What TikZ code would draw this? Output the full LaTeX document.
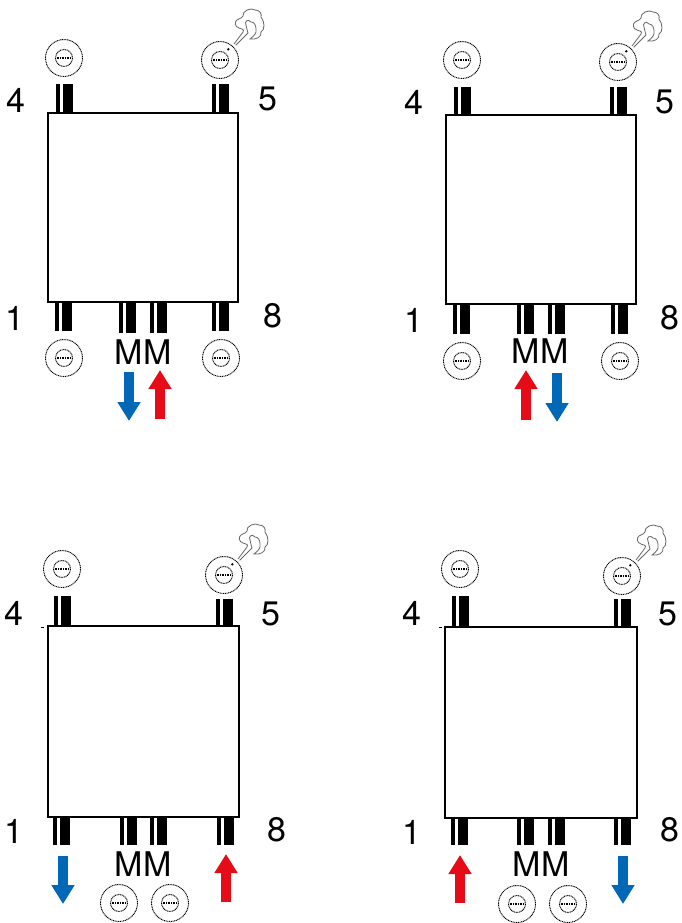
\documentclass[tikz,border=0pt]{standalone}
\usepackage{fontspec}
\setmainfont{TeX Gyre Heros}
\usepackage{xcolor}
\usetikzlibrary{arrows.meta}
\definecolor{flowblue}{HTML}{0068B6}
\definecolor{flowred}{HTML}{E60C17}
\newcommand{\pinpair}[3]{%
  \fill (#1,#2) rectangle (#1+4,#3);
  \fill (#1+7,#2) rectangle (#1+17,#3);}
\newcommand{\valve}[2]{%
  \draw[dotline] (#1,#2) circle (18.5);
  \draw[dotline] (#1,#2) circle (8.5);
  \draw[dotline,line width=1.2pt] (#1-7.5,#2) -- (#1+7.5,#2);}
\newcommand{\ventvalve}[2]{%
  \valve{#1}{#2}
  \begin{scope}[shift={(#1,#2)}]
    \fill (8.3,-10.7) circle (1.3);
    \draw[plume] (14,-16) -- (23,-28) .. controls (25,-31) and (21,-31) .. (19,-32)
      .. controls (15,-33) and (14,-38) .. (17,-40) .. controls (20,-42) and (23,-42) .. (23,-44)
      .. controls (22,-49) and (31,-53) .. (35,-50) .. controls (40,-50) and (42,-46) .. (41,-43)
      .. controls (45,-38) and (45,-30) .. (41,-28) .. controls (42,-23) and (36,-20) .. (30,-21)
      .. controls (34,-24) and (37,-27) .. (36,-31) .. controls (36,-35) and (34,-38) .. (31,-38)
      .. controls (28,-42) and (24,-38) .. (26,-35) .. controls (27,-32) and (27,-29) .. (28,-27)
      -- (15.7,-14.7);
  \end{scope}}
\begin{document}
\begin{tikzpicture}[x=1pt,y=-1pt,
    dotline/.style={line width=0.95pt,dash pattern=on 1pt off 0.7pt},
    plume/.style={line width=0.8pt,draw=black!60},
    chamber/.style={draw,line width=1.4pt},
    portlabel/.style={inner sep=0pt,font=\fontsize{34}{34}\selectfont},
    flow/.style={line width=9.5pt,-{Triangle[length=19pt,width=22pt]}}]
    \useasboundingbox (0,0) rectangle (681,923);

    \draw[chamber] (48,113) rectangle (238,302);
    \pinpair{56}{84}{113} \pinpair{212}{84}{113}
    \pinpair{55}{302}{331} \pinpair{119}{302}{333} \pinpair{150}{302}{333} \pinpair{212}{302}{331}
    \valve{64}{58} \ventvalve{220}{60} \valve{64}{358} \valve{221}{358}
    \node[portlabel] (a4) at (16,100) {4};
    \node[portlabel] (a5) at (268,99) {5};
    \node[portlabel] (a1) at (15,318) {1};
    \node[portlabel] (a8) at (273,316) {8};
    \node[portlabel] (aM) at (143,352) {MM};
    \coordinate (aOutS) at (129,372); \coordinate (aOutE) at (129,421);
    \coordinate (aInS) at (160,419); \coordinate (aInE) at (160,370);
    \draw[flow,flowblue] (aOutS) -- (aOutE);
    \draw[flow,flowred] (aInS) -- (aInE);

    \draw[chamber] (446,115) rectangle (636,304);
    \pinpair{454}{87}{115} \pinpair{610}{87}{115}
    \pinpair{453}{304}{334} \pinpair{517}{304}{334} \pinpair{548}{304}{334} \pinpair{611}{304}{334}
    \valve{462}{60} \ventvalve{618}{62} \valve{462}{361} \valve{620}{361}
    \node[portlabel] (b4) at (414,102) {4};
    \node[portlabel] (b5) at (665,102) {5};
    \node[portlabel] (b1) at (414,320) {1};
    \node[portlabel] (b8) at (670,318) {8};
    \node[portlabel] (bM) at (540,351) {MM};
    \coordinate (bInS) at (526,420); \coordinate (bInE) at (526,370);
    \coordinate (bOutS) at (557,373); \coordinate (bOutE) at (557,422);
    \draw[flow,flowred] (bInS) -- (bInE);
    \draw[flow,flowblue] (bOutS) -- (bOutE);

    \draw[chamber] (48,626) rectangle (239,817);
    \draw[line width=0.6pt] (41,627) -- (44,627);
    \pinpair{54}{596}{626} \pinpair{216}{599}{626}
    \pinpair{53}{817}{845} \pinpair{120}{817}{845} \pinpair{150}{817}{845} \pinpair{217}{817}{845}
    \valve{62}{569} \ventvalve{224}{575} \valve{119}{903} \valve{170}{903}
    \node[portlabel] (c4) at (14,613) {4};
    \node[portlabel] (c5) at (271,614) {5};
    \node[portlabel] (c1) at (14,831) {1};
    \node[portlabel] (c8) at (277,830) {8};
    \node[portlabel] (cM) at (143,864) {MM};
    \coordinate (cOutS) at (63,856); \coordinate (cOutE) at (63,904);
    \coordinate (cInS) at (226,902); \coordinate (cInE) at (226,854);
    \draw[flow,flowblue] (cOutS) -- (cOutE);
    \draw[flow,flowred] (cInS) -- (cInE);

    \draw[chamber] (445,627) rectangle (637,818);
    \draw[line width=0.6pt] (439,627) -- (442,627);
    \pinpair{452}{596}{627} \pinpair{614}{599}{627}
    \pinpair{451}{818}{845} \pinpair{517}{818}{845} \pinpair{548}{818}{845} \pinpair{614}{818}{845}
    \valve{460}{569} \ventvalve{622}{576} \valve{517}{904} \valve{568}{904}
    \node[portlabel] (d4) at (412,613) {4};
    \node[portlabel] (d5) at (668,614) {5};
    \node[portlabel] (d1) at (412,832) {1};
    \node[portlabel] (d8) at (670,830) {8};
    \node[portlabel] (dM) at (541,864) {MM};
    \coordinate (dInS) at (460,903); \coordinate (dInE) at (460,855);
    \coordinate (dOutS) at (623,856); \coordinate (dOutE) at (623,904);
    \draw[flow,flowred] (dInS) -- (dInE);
    \draw[flow,flowblue] (dOutS) -- (dOutE);
  \end{tikzpicture}
\end{document}
